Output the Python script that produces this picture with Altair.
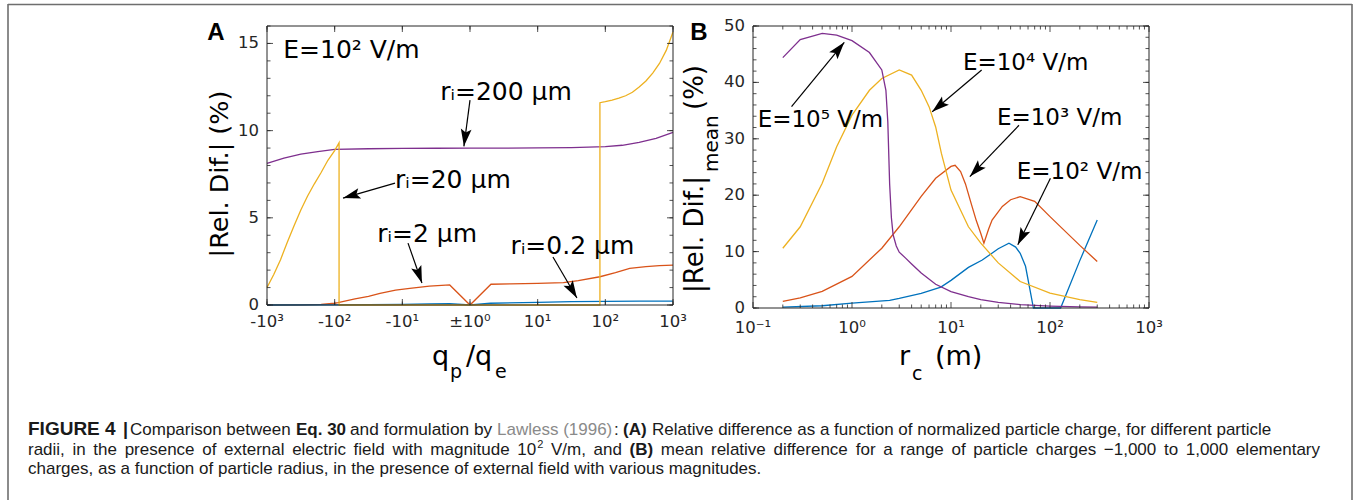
import math
import altair as alt
import pandas as pd

FONT = "DejaVu Sans"
CAPFONT = "Liberation Sans"
INK = "#262626"

# ---------------- Panel A data (x = signed log10 of q_p/q_e) ----------------
A_U_200 = [-3, -2.75, -2.5, -2.25, -2, -1.5, -1, -0.5, 0, 0.5, 1, 1.5, 2, 2.25, 2.5, 2.75, 3]
A_V_200 = [8.12, 8.42, 8.65, 8.8, 8.92, 8.96, 8.98, 8.99, 9.0, 9.0, 9.01, 9.03, 9.08, 9.16, 9.32, 9.56, 9.9]

A_U_20 = [-3, -2.9, -2.8, -2.7, -2.6, -2.5, -2.4, -2.3, -2.2, -2.1, -2.0, -1.935, -1.935,
          1.92, 1.92, 2.0, 2.1, 2.2, 2.3, 2.4, 2.5, 2.6, 2.7, 2.8, 2.9, 3.0]
A_V_20 = [1.0, 1.75, 2.6, 3.6, 4.55, 5.45, 6.25, 6.95, 7.6, 8.3, 8.85, 9.3, 0.0,
          0.0, 11.6, 11.66, 11.75, 11.86, 12.0, 12.2, 12.5, 12.85, 13.3, 13.85, 14.6, 15.66]

A_U_2 = [-3, -2.5, -2.2, -2.0, -1.95, -1.7, -1.5, -1.33, -1.1, -0.89, -0.6, -0.3, 0.0, 0.31, 0.6, 1.0, 1.38, 1.6, 1.92, 2.15, 2.36, 2.6, 2.8, 3.0]
A_V_2 = [0.0, 0.01, 0.04, 0.1, 0.13, 0.35, 0.5, 0.67, 0.85, 0.95, 1.08, 1.15, 0.0, 1.19, 1.21, 1.24, 1.28, 1.4, 1.62, 1.85, 2.1, 2.2, 2.26, 2.29]

A_U_02 = [-3, -2, -1, -0.6, -0.3, 0, 0.3, 1, 1.5, 2, 2.5, 3]
A_V_02 = [0.0, 0.01, 0.03, 0.07, 0.08, 0.0, 0.1, 0.15, 0.19, 0.21, 0.22, 0.22]

A_TICKS = [-3, -2, -1, 0, 1, 2, 3]
A_TICK_LABELS = ["-10³", "-10²", "-10¹", "±10⁰", "10¹", "10²", "10³"]
A_YTICKS = [0, 5, 10, 15]
A_YMINOR = list(range(0, 17))

A_LABELS = ["E=10² V/m", "rᵢ=200 μm", "rᵢ=20 μm", "rᵢ=2 μm", "rᵢ=0.2 μm"]
A_LAB_U = [-2.76, -0.44, -1.108, -1.37, 0.6]
A_LAB_V = [14.6, 12.2, 7.16, 4.1, 3.38]
A_ARR_U0 = [0.0, -1.108, -0.916, 1.226]
A_ARR_V0 = [11.75, 6.99, 3.55, 2.75]
A_ARR_U1 = [-0.09, -1.876, -0.71, 1.58]
A_ARR_V1 = [9.1, 6.13, 1.26, 0.40]

# ---------------- Panel B data (x = r_c in m, log) ----------------
B_R_5 = [0.2, 0.3, 0.5, 0.7, 1, 1.5, 2, 2.2, 2.3, 2.4, 2.5, 2.6, 2.8, 3, 3.5, 4, 5, 7, 10, 15, 20, 30, 50, 100, 200, 300]
B_V_5 = [44.4, 47.6, 48.7, 48.4, 47.4, 45.3, 42.2, 38.6, 33.0, 22.0, 16.0, 13.0, 11.0, 9.9, 8.8, 7.8, 6.2, 4.2, 2.9, 2.0, 1.5, 1.0, 0.6, 0.35, 0.2, 0.15]

B_R_4 = [0.2, 0.3, 0.5, 0.7, 1, 1.5, 2, 3, 4, 5, 6, 7, 8, 10, 15, 20, 30, 50, 100, 200, 300]
B_V_4 = [10.6, 14.4, 22.1, 28.6, 34.2, 38.6, 40.7, 42.2, 41.3, 38.6, 35.7, 32.1, 27.4, 20.9, 14.4, 11.5, 8.0, 4.7, 2.65, 1.5, 1.0]

B_R_3 = [0.2, 0.3, 0.5, 1, 2, 3, 5, 7, 10, 11, 12.5, 14, 16, 18, 20, 21.5, 24, 26, 33, 40, 50, 70, 100, 200, 300]
B_V_3 = [1.17, 1.8, 2.95, 5.6, 10.6, 14.4, 19.8, 23.0, 25.1, 25.3, 24.2, 22.0, 18.5, 15.5, 13.2, 11.5, 14.0, 15.6, 18.0, 19.2, 19.75, 18.9, 16.2, 11.1, 8.25]

B_R_2 = [0.2, 0.5, 1, 2.4, 3, 5, 7.9, 10, 15, 20.7, 30, 38.5, 45, 50, 56.6, 63.7, 68, 128, 200, 300]
B_V_2 = [0.15, 0.4, 0.85, 1.35, 1.7, 2.6, 3.7, 4.9, 7.2, 8.5, 10.5, 11.5, 10.8, 9.7, 7.4, 2.65, 0.0, 0.0, 8.4, 15.6]

B_TICKS = [0.1, 1, 10, 100, 1000]
B_TICK_LABELS = ["10⁻¹", "10⁰", "10¹", "10²", "10³"]
B_XMINOR = [m * 10.0 ** k for k in range(-1, 3) for m in range(2, 10)]
B_YTICKS = [0, 10, 20, 30, 40, 50]
B_YMINOR = list(range(0, 51, 2))

B_LABELS = ["E=10⁵ V/m", "E=10⁴ V/m", "E=10³ V/m", "E=10² V/m"]
B_LAB_R = [0.1114, 13.2, 29.1, 46.2]
B_LAB_V = [33.3, 43.4, 33.7, 24.2]
B_ARR_R0 = [0.245, 20.4, 48.6, 101.0]
B_ARR_V0 = [35.7, 42.2, 32.4, 23.0]
B_ARR_R1 = [0.836, 6.46, 15.5, 47.3]
B_ARR_V1 = [47.1, 34.8, 23.3, 11.2]

BLUE, RED, YEL, PUR = "#0072BD", "#D95319", "#EDB120", "#7E2F8E"

# ---------------- scales (pixel layout of each panel) ----------------
AX0, AX1, AY0, AY1 = 267, 673, 305, 26
BX0, BX1, BY0, BY1 = 753, 1149, 308, 26
A_X = alt.Scale(domain=[-3, 3], range=[AX0, AX1], nice=False, zero=False)
A_Y = alt.Scale(domain=[0, 16], range=[AY0, AY1], nice=False, zero=False)
B_X = alt.Scale(type="log", domain=[0.1, 1000], range=[BX0, BX1], nice=False)
B_Y = alt.Scale(domain=[0, 50], range=[BY0, BY1], nice=False, zero=False)


def apx(u, v):
    return AX0 + (u + 3) / 6 * (AX1 - AX0), AY0 - v / 16 * (AY0 - AY1)


def bpx(r, v):
    return BX0 + (math.log10(r) + 1) / 4 * (BX1 - BX0), BY0 - v / 50 * (BY0 - BY1)


def ang(p0, p1):
    dx, dy = p1[0] - p0[0], p1[1] - p0[1]
    return math.degrees(math.atan2(dx, -dy)) % 360


def X(f, sc, t="Q"):
    return alt.X(f"{f}:{t}", scale=sc, axis=None)


def Y(f, sc, t="Q"):
    return alt.Y(f"{f}:{t}", scale=sc, axis=None)


def line_layer(xs, ys, color, xsc, ysc):
    df = pd.DataFrame({"x": xs, "y": ys, "i": range(len(xs))})
    return alt.Chart(df).mark_line(color=color, strokeWidth=1.3).encode(
        x=X("x", xsc), y=Y("y", ysc), order="i:Q")


def frame_layers(xsc, ysc, xd, yd, xmaj, xmaj_lab, xmin, ymaj, ymin, xlab_dy):
    layers = []
    box = alt.Chart(pd.DataFrame({"a": [0]})).mark_rect(
        fill=None, stroke=INK, strokeWidth=1).encode(
        x=alt.XDatum(xd[0], scale=xsc, axis=None), x2=alt.X2Datum(xd[1]),
        y=alt.YDatum(yd[0], scale=ysc, axis=None), y2=alt.Y2Datum(yd[1]))
    layers.append(box)
    for vals, ln in ((xmin, 3.5), (xmaj, 6)):
        df = pd.DataFrame({"t": vals})
        layers.append(alt.Chart(df).mark_rule(color=INK, strokeWidth=0.8, y2Offset=-ln).encode(
            x=X("t", xsc), y=alt.YDatum(yd[0], scale=ysc, axis=None), y2=alt.Y2Datum(yd[0])))
        layers.append(alt.Chart(df).mark_rule(color=INK, strokeWidth=0.8, y2Offset=ln).encode(
            x=X("t", xsc), y=alt.YDatum(yd[1], scale=ysc, axis=None), y2=alt.Y2Datum(yd[1])))
    for vals, ln in ((ymin, 3.5), (ymaj, 6)):
        df = pd.DataFrame({"t": vals})
        layers.append(alt.Chart(df).mark_rule(color=INK, strokeWidth=0.8, x2Offset=ln).encode(
            y=Y("t", ysc), x=alt.XDatum(xd[0], scale=xsc, axis=None), x2=alt.X2Datum(xd[0])))
        layers.append(alt.Chart(df).mark_rule(color=INK, strokeWidth=0.8, x2Offset=-ln).encode(
            y=Y("t", ysc), x=alt.XDatum(xd[1], scale=xsc, axis=None), x2=alt.X2Datum(xd[1])))
    layers.append(alt.Chart(pd.DataFrame({"t": xmaj, "l": xmaj_lab})).mark_text(
        font=FONT, fontSize=16.5, color=INK, dy=xlab_dy).encode(
        x=X("t", xsc), y=alt.YDatum(yd[0], scale=ysc, axis=None), text="l:N"))
    layers.append(alt.Chart(pd.DataFrame({"t": ymaj, "l": [str(v) for v in ymaj]})).mark_text(
        font=FONT, fontSize=16.5, color=INK, align="right", dx=-8).encode(
        y=Y("t", ysc), x=alt.XDatum(xd[0], scale=xsc, axis=None), text="l:N"))
    return layers


def annot_layers(lab, lx, ly, x0, y0, x1, y1, xsc, ysc, size, pxf):
    layers = []
    layers.append(alt.Chart(pd.DataFrame({"l": lab, "x": lx, "y": ly})).mark_text(
        font=FONT, fontSize=size, color="black", align="left", baseline="middle").encode(
        x=X("x", xsc), y=Y("y", ysc), text="l:N"))
    angles = [ang(pxf(a, b), pxf(c, d)) for a, b, c, d in zip(x0, y0, x1, y1)]
    df = pd.DataFrame({"x0": x0, "y0": y0, "x1": x1, "y1": y1, "a": angles})
    layers.append(alt.Chart(df).mark_rule(color="black", strokeWidth=1.2).encode(
        x=X("x0", xsc), y=Y("y0", ysc), x2="x1:Q", y2="y1:Q"))
    layers.append(alt.Chart(df).mark_point(
        shape="M0,0 L0.62,2 L0,1.6 L-0.62,2 Z", filled=True, color="black",
        opacity=1, size=300, strokeWidth=0).encode(
        x=X("x1", xsc), y=Y("y1", ysc), angle=alt.Angle("a:Q", scale=None)))
    return layers


panelA = alt.layer(
    line_layer(A_U_200, A_V_200, PUR, A_X, A_Y),
    line_layer(A_U_2, A_V_2, RED, A_X, A_Y),
    line_layer(A_U_02, A_V_02, BLUE, A_X, A_Y),
    line_layer(A_U_20, A_V_20, YEL, A_X, A_Y),
    *frame_layers(A_X, A_Y, (-3, 3), (0, 16), A_TICKS, A_TICK_LABELS, A_TICKS,
                  A_YTICKS, A_YMINOR, 17),
    *annot_layers(A_LABELS, A_LAB_U, A_LAB_V, A_ARR_U0, A_ARR_V0, A_ARR_U1, A_ARR_V1,
                  A_X, A_Y, 25, apx),
)

panelB = alt.layer(
    line_layer(B_R_2, B_V_2, BLUE, B_X, B_Y),
    line_layer(B_R_3, B_V_3, RED, B_X, B_Y),
    line_layer(B_R_4, B_V_4, YEL, B_X, B_Y),
    line_layer(B_R_5, B_V_5, PUR, B_X, B_Y),
    *frame_layers(B_X, B_Y, (0.1, 1000), (0, 50), B_TICKS, B_TICK_LABELS, B_XMINOR,
                  B_YTICKS, B_YMINOR, 20),
    *annot_layers(B_LABELS, B_LAB_R, B_LAB_V, B_ARR_R0, B_ARR_V0, B_ARR_R1, B_ARR_V1,
                  B_X, B_Y, 23, bpx),
)


def txt(s, x, y, size, font=FONT, **kw):
    return alt.Chart(pd.DataFrame({"t": [s]})).mark_text(
        font=font, fontSize=size, **kw).encode(x=alt.value(x), y=alt.value(y), text="t:N")


titles = [
    txt("A", 216, 33, 24, font=CAPFONT, fontWeight="bold", baseline="middle"),
    txt("B", 699, 33, 24, font=CAPFONT, fontWeight="bold", baseline="middle"),
    txt("|Rel. Dif.| (%)", 220, 174, 25.5, angle=270, baseline="middle", color="black"),
    txt("q", 432, 365, 27, align="left", baseline="alphabetic", color="black"),
    txt("p", 450, 378, 19, align="left", baseline="alphabetic", color="black"),
    txt("/q", 466, 365, 27, align="left", baseline="alphabetic", color="black"),
    txt("e", 495, 378, 19, align="left", baseline="alphabetic", color="black"),
    txt("r", 899, 365, 27, align="left", baseline="alphabetic", color="black"),
    txt("c", 912, 380, 19, align="left", baseline="alphabetic", color="black"),
    txt("(m)", 935, 365, 27, align="left", baseline="alphabetic", color="black"),
    txt("|Rel. Dif.|", 695, 293, 26, angle=270, align="left", baseline="middle", color="black"),
    txt("mean", 712, 172, 20, angle=270, align="left", baseline="middle", color="black"),
    txt("(%)", 695, 110, 26, angle=270, align="left", baseline="middle", color="black"),
]

frame = [
    alt.Chart(pd.DataFrame({"a": [0]})).mark_rule(color="#6e6e6e", strokeWidth=1.6).encode(
        x=alt.value(x0), x2=alt.value(x1), y=alt.value(y0), y2=alt.value(y1))
    for x0, x1, y0, y1 in ((8, 8, 4, 500), (8, 1352, 4.5, 4.5), (1352, 1352, 4, 500))
]

# ---------------- caption ----------------
_HR = {" ": 278, ",": 278, ".": 278, "(": 333, ")": 333, "/": 278, ":": 278, "-": 333,
       "\u2212": 584, "|": 260}
_HR.update({d: 556 for d in "0123456789"})
_HR.update(dict(zip("abcdefghijklmnopqrstuvwxyz",
                    [556, 556, 500, 556, 556, 278, 556, 556, 222, 222, 500, 222, 833,
                     556, 556, 556, 556, 333, 500, 278, 556, 500, 722, 500, 500, 500])))
_HR.update({"A": 667, "B": 667, "C": 722, "E": 667, "F": 611, "G": 778, "I": 278, "L": 556,
            "R": 722, "U": 722, "V": 667})
_HB = dict(_HR)
_HB.update({"(": 333, ")": 333, "A": 722, "B": 722, "q": 611, "|": 280})

CAP_SIZE = 17
CAP_INK = "#1a1a1a"


def wid(s, bold=False, size=CAP_SIZE):
    t = _HB if bold else _HR
    return sum(t.get(ch, 556) for ch in s) * size / 1000.0


LINE1 = [("FIGURE 4", 28, "b", 19), ("|", 123, "b", 18), ("Comparison between", 130, "n", 17),
         ("Eq. 30", 296, "b", 17), ("and formulation by", 350, "n", 17.3),
         ("Lawless (1996)", 497, "g", 17), (":", 614, "n", 17), ("(A)", 623, "b", 17),
         ("Relative difference as a function of normalized particle charge, for different particle", 652, "n", 17)]
LINE2_WORDS = [("radii,", "n"), ("in", "n"), ("the", "n"), ("presence", "n"), ("of", "n"),
               ("external", "n"), ("electric", "n"), ("field", "n"), ("with", "n"),
               ("magnitude", "n"), ("10", "n"), ("2", "sup"), ("V/m,", "n"), ("and", "n"),
               ("(B)", "b"), ("mean", "n"), ("relative", "n"), ("difference", "n"), ("for", "n"),
               ("a", "n"), ("range", "n"), ("of", "n"), ("particle", "n"), ("charges", "n"),
               ("\u22121,000", "n"), ("to", "n"), ("1,000", "n"), ("elementary", "n")]
LINE3 = "charges, as a function of particle radius, in the presence of external field with various magnitudes."

caption = []
STY = {"n": dict(fontWeight="normal", color=CAP_INK),
       "b": dict(fontWeight="bold", color=CAP_INK),
       "g": dict(fontWeight="normal", color="#8a8a8a")}
for s, x, st, sz in LINE1:
    caption.append(txt(s, x, 435, sz, font=CAPFONT, align="left",
                       baseline="alphabetic", **STY[st]))

sup_size = 11
nat = 0.0
gaps = 0
for i, (w_, st) in enumerate(LINE2_WORDS):
    if st == "sup":
        nat += wid(w_, size=sup_size) + 1
    else:
        if i > 0:
            gaps += 1
            nat += wid(" ")
        nat += wid(w_, bold=(st == "b"))
extra = (1320 - 28 - nat) / gaps
x = 28.0
for i, (w_, st) in enumerate(LINE2_WORDS):
    if st == "sup":
        caption.append(txt(w_, x + 1, 447.5, sup_size, font=CAPFONT, align="left",
                           baseline="alphabetic", color=CAP_INK))
        x += wid(w_, size=sup_size) + 1
        continue
    if i > 0:
        x += wid(" ") + extra
    caption.append(txt(w_, x, 454.5, CAP_SIZE, font=CAPFONT, align="left",
                       baseline="alphabetic", **STY[st]))
    x += wid(w_, bold=(st == "b"))

caption.append(txt(LINE3, 28, 473.5, CAP_SIZE, font=CAPFONT, align="left",
                   baseline="alphabetic", color=CAP_INK))

chart = alt.layer(panelA, panelB, *titles, *frame, *caption).resolve_scale(
    x="independent", y="independent"
).properties(
    width=1356, height=500, padding=0, autosize=alt.AutoSizeParams(type="none"),
    background="white",
).configure_view(stroke=None)

chart.save("out.html", embed_options={"renderer": "svg", "actions": False})
